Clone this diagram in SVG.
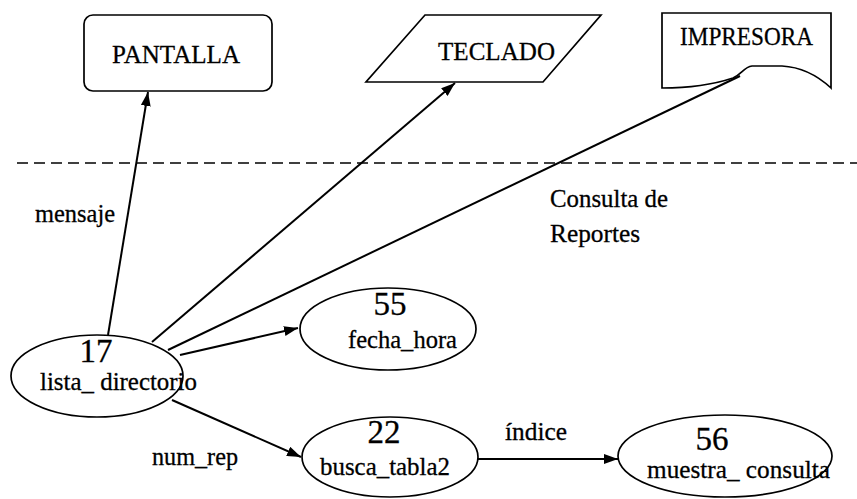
<svg xmlns="http://www.w3.org/2000/svg" width="857" height="499" viewBox="0 0 857 499">
<style>
.shape{fill:#fff;stroke:#000;stroke-width:1.7}
.lbl{font-family:"Liberation Serif","Times New Roman",serif;font-size:26px;fill:#000;stroke:#000;stroke-width:0.3}
.num{font-family:"Liberation Serif","Times New Roman",serif;font-size:33px;fill:#000;stroke:#000;stroke-width:0.3;text-anchor:middle}
.flow{fill:none;stroke:#000;stroke-width:2}
.sep{fill:none;stroke:#000;stroke-width:1.5;stroke-dasharray:11 6}
</style>
<defs>
<marker id="arr" viewBox="0 0 14 10" refX="14" refY="5" markerWidth="14" markerHeight="10" markerUnits="userSpaceOnUse" orient="auto">
<path d="M0,0 L14,5 L0,10 Z" fill="#000"/>
</marker>
</defs>
<rect width="857" height="499" fill="#fff"/>
<line class="sep" x1="17" y1="163" x2="857" y2="163"/>
<g id="connectors">
<line class="flow" x1="108" y1="335" x2="148" y2="92" marker-end="url(#arr)"/>
<line class="flow" x1="152" y1="342" x2="455" y2="83" marker-end="url(#arr)"/>
<line class="flow" x1="168" y1="350" x2="740" y2="76"/>
<line class="flow" x1="180" y1="355" x2="298" y2="328" marker-end="url(#arr)"/>
<line class="flow" x1="172" y1="400" x2="301" y2="457" marker-end="url(#arr)"/>
<line class="flow" x1="478" y1="459" x2="618" y2="459" marker-end="url(#arr)"/>
<text class="lbl" x="35" y="222" textLength="80" lengthAdjust="spacingAndGlyphs">mensaje</text>
<text class="lbl" x="550" y="207" textLength="118" lengthAdjust="spacingAndGlyphs">Consulta de</text>
<text class="lbl" x="550" y="242" textLength="90" lengthAdjust="spacingAndGlyphs">Reportes</text>
<text class="lbl" x="152" y="465" textLength="86" lengthAdjust="spacingAndGlyphs">num_rep</text>
<text class="lbl" x="505" y="440" textLength="62" lengthAdjust="spacingAndGlyphs">índice</text>
</g>
<g id="pantalla">
<rect class="shape" x="84" y="15" width="188" height="76" rx="9"/>
<text class="lbl" x="112" y="63" textLength="128" lengthAdjust="spacingAndGlyphs">PANTALLA</text>
</g>
<g id="teclado">
<path class="shape" d="M425,15 L601,15 L543,82 L366,82 Z"/>
<text class="lbl" x="438" y="60" textLength="117" lengthAdjust="spacingAndGlyphs">TECLADO</text>
</g>
<g id="impresora">
<path class="shape" d="M662,13 H831 V88 C818,76 802,67 782,66 L752,66 C744,67 742,74 733,78 C715,84 690,88 662,88 Z"/>
<text class="lbl" x="680" y="45" textLength="133" lengthAdjust="spacingAndGlyphs">IMPRESORA</text>
</g>
<g id="n17">
<ellipse class="shape" cx="97" cy="376" rx="86" ry="41"/>
<text class="num" x="96" y="362">17</text>
<text class="lbl" x="40" y="390" textLength="157" lengthAdjust="spacingAndGlyphs">lista_ directorio</text>
</g>
<g id="n55">
<ellipse class="shape" cx="388" cy="329" rx="88" ry="41"/>
<text class="num" x="390" y="315">55</text>
<text class="lbl" x="348" y="348" textLength="109" lengthAdjust="spacingAndGlyphs">fecha_hora</text>
</g>
<g id="n22">
<ellipse class="shape" cx="390" cy="457" rx="88" ry="40"/>
<text class="num" x="384" y="443">22</text>
<text class="lbl" x="320" y="475" textLength="130" lengthAdjust="spacingAndGlyphs">busca_tabla2</text>
</g>
<g id="n56">
<ellipse class="shape" cx="725" cy="456" rx="107" ry="41"/>
<text class="num" x="712" y="450">56</text>
<text class="lbl" x="647" y="478" textLength="183" lengthAdjust="spacingAndGlyphs">muestra_ consulta</text>
</g>
</svg>
